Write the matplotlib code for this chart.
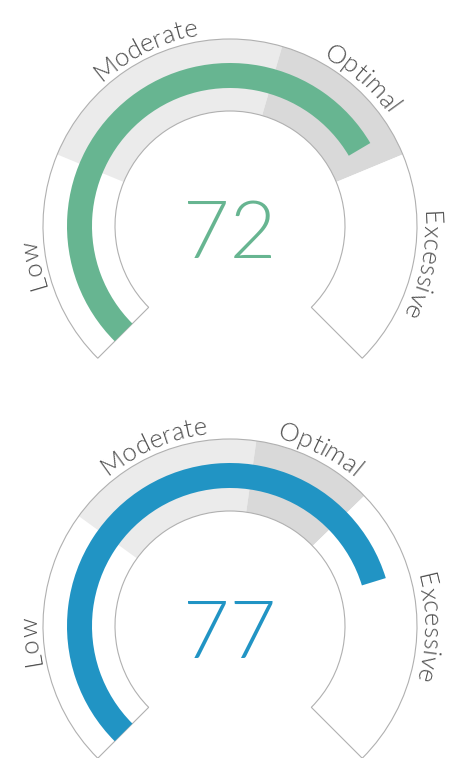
import numpy as np
import matplotlib
matplotlib.use("Agg")
import matplotlib.pyplot as plt
from matplotlib.patches import Wedge
from matplotlib.font_manager import FontProperties


values = [72, 77]
bar_colors = ["#67b591", "#2194c4"]
band_labels = ["Low", "Moderate", "Optimal", "Excessive"]
band_colors = ["#ffffff", "#ebebeb", "#d9d9d9", "#ffffff"]
# upper limits of Low / Moderate / Optimal for each gauge (scale 0-100)
band_limits = [[25, 56, 75], [30, 53, 67]]

W, H = 456, 758
START, SWEEP = 225.0, 270.0
R_OUT, R_IN = 187, 115
BAR_OUT, BAR_W = 163, 25
TEXT_R = 193

label_font = FontProperties(family=["Lato", "DejaVu Sans"], weight=300, size=18.5)
number_font = FontProperties(family=["Lato", "DejaVu Sans"], weight=300, size=58)


def ang(v):
    return START - SWEEP * v / 100.0


def curved_text(ax, renderer, text, cx, cy, r, mid_deg):
    widths = [renderer.get_text_width_height_descent(text[:i], label_font, ismath=False)[0]
              for i in range(len(text) + 1)]
    total = widths[-1]
    for i, ch in enumerate(text):
        s = (widths[i] + widths[i + 1]) / 2
        a = np.radians(mid_deg) + (total / 2 - s) / r
        x = cx + r * np.cos(a)
        y = cy + r * np.sin(a)
        ax.text(x, y, ch, fontproperties=label_font, color="#505050",
                rotation=np.degrees(a) - 90, rotation_mode="anchor",
                ha="center", va="baseline")


def draw_gauge(ax, renderer, cx, cy, value, color, limits):
    edges = [0] + limits + [100]
    for k in range(4):
        a1, a2 = ang(edges[k + 1]), ang(edges[k])
        ax.add_patch(Wedge((cx, cy), R_OUT, a1, a2, width=R_OUT - R_IN,
                           facecolor=band_colors[k], edgecolor="none"))
        curved_text(ax, renderer, band_labels[k], cx, cy, TEXT_R, (a1 + a2) / 2)
    ax.add_patch(Wedge((cx, cy), R_OUT, ang(100), ang(0), width=R_OUT - R_IN,
                       facecolor="none", edgecolor="#b0b0b0", linewidth=0.8))
    ax.add_patch(Wedge((cx, cy), BAR_OUT, ang(value), ang(0), width=BAR_W,
                       facecolor=color, edgecolor="none"))
    ax.text(cx, cy - 32, str(value), fontproperties=number_font, color=color,
            ha="center", va="baseline")


fig = plt.figure(figsize=(W / 100, H / 100), dpi=100)
ax = fig.add_axes([0, 0, 1, 1])
ax.set_xlim(0, W)
ax.set_ylim(0, H)
ax.axis("off")
renderer = fig.canvas.get_renderer()

centers = [(230, H - 226), (230, H - 626)]
for (cx, cy), v, c, lim in zip(centers, values, bar_colors, band_limits):
    draw_gauge(ax, renderer, cx, cy, v, c, lim)

fig.savefig("out.png", dpi=100)
